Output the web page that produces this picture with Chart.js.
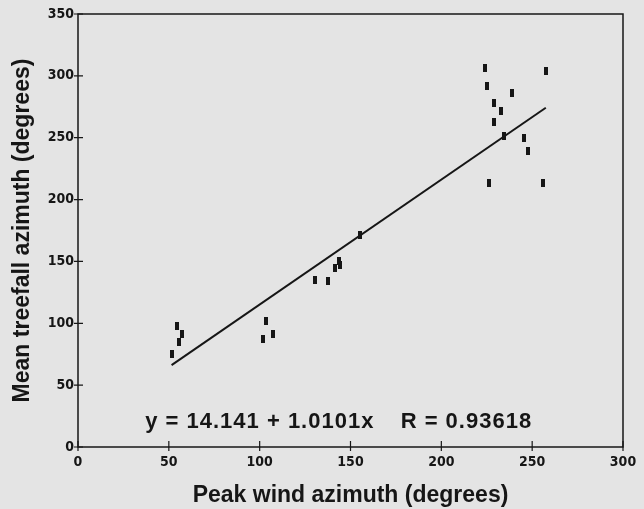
<!DOCTYPE html>
<html>
<head>
<meta charset="utf-8">
<script src="https://cdn.jsdelivr.net/npm/chart.js@4/dist/chart.umd.min.js"></script>
<style>
  html, body { margin: 0; padding: 0; background: #e4e4e4; }
  #wrap { width: 644px; height: 509px; }
</style>
</head>
<body>
<div id="wrap"><canvas id="treefallChart" width="644" height="509"></canvas></div>
<script>
// peak wind azimuth vs mean treefall azimuth, one entry per site
const windAzimuth = [52, 54.5, 57, 55.5, 101.8, 103.5, 107.3, 130.6, 137.6, 141.3, 143.5, 144, 155,
  223.8, 225.1, 226.2, 228.8, 228.9, 232.6, 234.5, 238.9, 245.3, 247.5, 255.9, 257.4];
const treefallAzimuth = [75, 98, 91, 84.5, 87.7, 102, 91, 135, 134, 145, 150, 147, 171.3,
  306.4, 292, 213.3, 277.8, 262.5, 271.4, 251.6, 286.2, 249.5, 239.2, 213.6, 303.7];

// least-squares fit as printed on the chart
const fitIntercept = 14.141;
const fitSlope = 1.0101;
const fitR = 0.93618;
const fitRange = [51.5, 257.5];

const xTicks = [0, 50, 100, 150, 200, 250, 300];
const yTicks = [0, 50, 100, 150, 200, 250, 300, 350];

const ink = '#161616';
const narrow = "'Liberation Sans Narrow', 'DejaVu Sans Condensed', sans-serif";
const sans = "'Liberation Sans', Arial, Helvetica, sans-serif";

// small upright bar used as the marker
const marker = document.createElement('canvas');
marker.width = 4;
marker.height = 8;
const mctx = marker.getContext('2d');
mctx.fillStyle = ink;
mctx.fillRect(0, 0, 4, 8);

const points = windAzimuth.map((x, i) => ({ x: x, y: treefallAzimuth[i] }));
const fitLine = fitRange.map(x => ({ x: x, y: fitIntercept + fitSlope * x }));

// frame, crossing tick marks and the fit equation
const framePlugin = {
  id: 'frame',
  afterDatasetsDraw(chart) {
    const { ctx, chartArea: a, scales: { x, y } } = chart;
    ctx.save();
    ctx.strokeStyle = ink;
    ctx.lineWidth = 1.5;
    ctx.strokeRect(a.left, a.top, a.right - a.left, a.bottom - a.top);
    ctx.lineWidth = 1.2;
    ctx.beginPath();
    xTicks.forEach(v => {
      const px = x.getPixelForValue(v);
      ctx.moveTo(px, a.bottom - 6);
      ctx.lineTo(px, a.bottom + 4);
    });
    yTicks.forEach(v => {
      const py = y.getPixelForValue(v);
      ctx.moveTo(a.left - 4, py);
      ctx.lineTo(a.left + 5, py);
    });
    ctx.stroke();

    ctx.fillStyle = ink;
    ctx.font = 'bold 22px ' + sans;
    ctx.letterSpacing = '1px';
    ctx.textBaseline = 'alphabetic';
    ctx.textAlign = 'left';
    const baseY = y.getPixelForValue(15.5);
    ctx.fillText('y = ' + fitIntercept + ' + ' + fitSlope + 'x', x.getPixelForValue(37), baseY);
    ctx.fillText('R = ' + fitR, x.getPixelForValue(177.6), baseY);
    ctx.restore();
  }
};

new Chart(document.getElementById('treefallChart'), {
  type: 'scatter',
  data: {
    datasets: [
      {
        data: points,
        pointStyle: marker,
        pointRadius: 4,
        showLine: false
      },
      {
        data: fitLine,
        showLine: true,
        borderColor: ink,
        borderWidth: 2,
        pointRadius: 0
      }
    ]
  },
  options: {
    responsive: false,
    animation: false,
    events: [],
    layout: { padding: { top: 14, right: 21, left: 0, bottom: 0 } },
    plugins: { legend: { display: false }, tooltip: { enabled: false } },
    scales: {
      x: {
        type: 'linear',
        min: 0,
        max: 300,
        grid: { display: false, drawTicks: false },
        border: { display: false },
        afterFit: s => { s.height = 62; },
        afterBuildTicks: s => { s.ticks = xTicks.map(v => ({ value: v })); },
        ticks: {
          color: ink,
          padding: 7,
          maxRotation: 0,
          font: { family: narrow, size: 14, weight: 'bold' }
        },
        title: {
          display: true,
          text: 'Peak wind azimuth (degrees)',
          color: ink,
          padding: { top: 0, bottom: 0 },
          font: { family: sans, size: 23, weight: 'bold' }
        }
      },
      y: {
        type: 'linear',
        min: 0,
        max: 350,
        grid: { display: false, drawTicks: false },
        border: { display: false },
        afterFit: s => { s.width = 78; },
        afterBuildTicks: s => { s.ticks = yTicks.map(v => ({ value: v })); },
        ticks: {
          color: ink,
          padding: 4,
          font: { family: narrow, size: 14, weight: 'bold' }
        },
        title: {
          display: true,
          text: 'Mean treefall azimuth (degrees)',
          color: ink,
          padding: { top: 9, bottom: 0 },
          font: { family: sans, size: 23, weight: 'bold' }
        }
      }
    }
  },
  plugins: [framePlugin]
});
</script>
</body>
</html>
